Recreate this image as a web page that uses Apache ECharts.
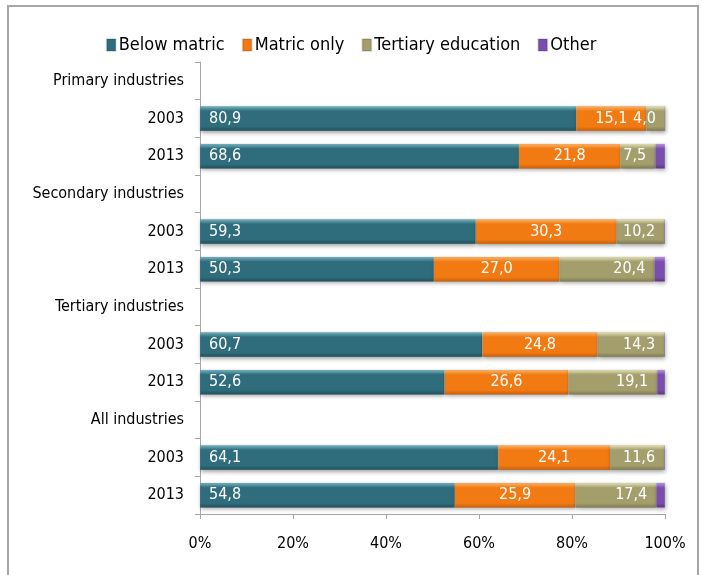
<!DOCTYPE html>
<html>
<head>
<meta charset="utf-8">
<script src="https://cdn.jsdelivr.net/npm/echarts@6/dist/echarts.min.js"></script>
<style>
  html, body { margin: 0; padding: 0; background: #fff; overflow: hidden; }
  #frame { position: absolute; left: 7px; top: 5px; width: 688px; height: 600px;
           border-left: 2px solid #a6a6a6; border-top: 2px solid #a6a6a6; border-right: 2px solid #a6a6a6; }
  #chart { position: absolute; left: 0; top: 0; width: 702px; height: 575px; }
</style>
</head>
<body>
<div id="frame"></div>
<div id="chart"></div>
<script>
// Sector groups and survey years
const groups = ['Primary industries', 'Secondary industries', 'Tertiary industries', 'All industries'];
const years = ['2003', '2013'];

// Share of workers by education level (%), per group: [2003, 2013]
const belowMatric = [[80.9, 68.6], [59.3, 50.3], [60.7, 52.6], [64.1, 54.8]];
const matricOnly  = [[15.1, 21.8], [30.3, 27.0], [24.8, 26.6], [24.1, 25.9]];
const tertiary    = [[4.0, 7.5],   [10.2, 20.4], [14.3, 19.1], [11.6, 17.4]];
const other       = [[0.0, 2.1],   [0.2, 2.3],   [0.2, 1.7],   [0.2, 1.9]];

const seriesNames = ['Below matric', 'Matric only', 'Tertiary education', 'Other'];
const xTicks = ['0%', '20%', '40%', '60%', '80%', '100%'];

// Each group gets a heading row (no bar) followed by one row per year
const categories = [];
groups.forEach(g => { categories.push(g); years.forEach(y => categories.push(y)); });

function rows(values) {
  const out = [];
  values.forEach(pair => { out.push('-'); pair.forEach(v => out.push(v)); });
  return out;
}

const FONT = '"Liberation Sans Narrow", "DejaVu Sans Condensed", "Open Sans", sans-serif';

function bevel(light, mid, dark) {
  return new echarts.graphic.LinearGradient(0, 0, 0, 1, [
    { offset: 0, color: light },
    { offset: 0.2, color: mid },
    { offset: 0.82, color: mid },
    { offset: 1, color: dark }
  ]);
}

const fills = [
  bevel('#79b9c6', '#2f6c7c', '#1f4f5b'),
  bevel('#fcb66b', '#f27a12', '#c75f08'),
  bevel('#e8e4b6', '#a39e6c', '#7f7b50'),
  bevel('#bd9be3', '#7a4ead', '#5b3486')
];
const legendColors = ['#2f6c7c', '#f27a12', '#a39e6c', '#7a4ead'];

const fmt = p => (typeof p.value === 'number' ? p.value.toFixed(1).replace('.', ',') : '');

const labelPos = ['insideLeft', 'inside', 'insideRight', null];

const dataSets = [belowMatric, matricOnly, tertiary, other];

const series = dataSets.map((vals, i) => ({
  name: seriesNames[i],
  type: 'bar',
  stack: 'total',
  barWidth: 25,
  data: rows(vals),
  itemStyle: {
    color: fills[i],
    borderColor: 'rgba(0,0,0,0.12)',
    borderWidth: 0.5,
    shadowColor: 'rgba(0,0,0,0.35)',
    shadowBlur: 4,
    shadowOffsetY: 2,
    shadowOffsetX: 1
  },
  label: labelPos[i] ? {
    show: true,
    position: labelPos[i],
    formatter: fmt,
    color: '#ffffff',
    fontFamily: FONT,
    fontSize: 16,
    distance: 9
  } : { show: false }
}));

const chart = echarts.init(document.getElementById('chart'), null, { renderer: 'canvas' });
chart.setOption({
  animation: false,
  color: legendColors,
  legend: {
    top: 31,
    left: 'center',
    itemWidth: 9,
    itemHeight: 12,
    itemGap: 17,
    icon: 'rect',
    textStyle: { fontFamily: FONT, fontSize: 18, color: '#000', padding: [0, 0, 0, -2] },
    data: seriesNames.map((n, i) => ({ name: n, itemStyle: { color: legendColors[i] } }))
  },
  grid: { left: 200, right: 37, top: 62, bottom: 61, containLabel: false },
  xAxis: {
    type: 'value',
    min: 0,
    max: 100,
    interval: 20,
    axisLine: { show: true, lineStyle: { color: '#a6a6a6', width: 1 } },
    axisTick: { show: true, length: 5, lineStyle: { color: '#a6a6a6' } },
    splitLine: { show: false },
    axisLabel: {
      margin: 22,
      fontFamily: FONT,
      fontSize: 16,
      color: '#000',
      formatter: v => xTicks[Math.round(v / 20)]
    }
  },
  yAxis: {
    type: 'category',
    inverse: true,
    data: categories,
    axisLine: { show: true, lineStyle: { color: '#a6a6a6', width: 1 } },
    axisTick: { show: true, length: 5, lineStyle: { color: '#a6a6a6' } },
    axisLabel: { margin: 16, fontFamily: FONT, fontSize: 16, color: '#000' }
  },
  series: series
});
</script>
</body>
</html>
